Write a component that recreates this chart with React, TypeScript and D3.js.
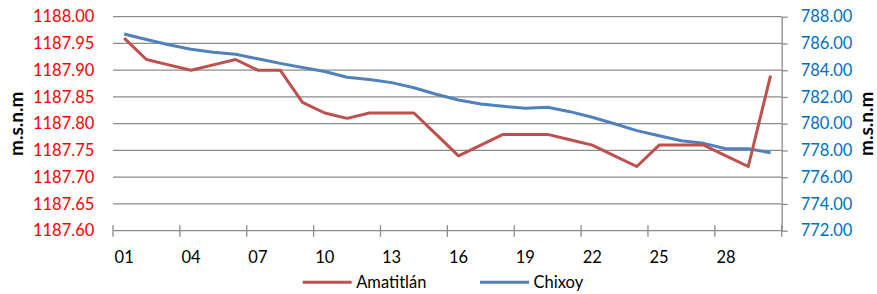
import { useEffect, useRef } from 'react';
import * as d3 from 'd3';

// daily levels, one month
const days = ['01', '02', '03', '04', '05', '06', '07', '08', '09', '10', '11', '12', '13', '14', '15',
  '16', '17', '18', '19', '20', '21', '22', '23', '24', '25', '26', '27', '28', '29', '30'];
const dayLabels = ['01', '04', '07', '10', '13', '16', '19', '22', '25', '28'];

const amatitlan = [1187.96, 1187.92, 1187.91, 1187.90, 1187.91, 1187.92, 1187.90, 1187.90, 1187.84, 1187.82,
  1187.81, 1187.82, 1187.82, 1187.82, 1187.78, 1187.74, 1187.76, 1187.78, 1187.78, 1187.78,
  1187.77, 1187.76, 1187.74, 1187.72, 1187.76, 1187.76, 1187.76, 1187.74, 1187.72, 1187.89];
const chixoy = [786.71, 786.3, 785.9, 785.56, 785.35, 785.19, 784.85, 784.51, 784.2, 783.9,
  783.47, 783.3, 783.07, 782.69, 782.2, 781.77, 781.47, 781.3, 781.15, 781.23,
  780.9, 780.48, 780.0, 779.48, 779.1, 778.73, 778.53, 778.13, 778.13, 777.83];

const leftTicks = [1187.60, 1187.65, 1187.70, 1187.75, 1187.80, 1187.85, 1187.90, 1187.95, 1188.00];
const rightTicks = [772, 774, 776, 778, 780, 782, 784, 786, 788];
const seriesNames = ['Amatitlán', 'Chixoy'];

const font = 'Lato, "Open Sans", sans-serif';

const App = () => {
  const ref = useRef<SVGSVGElement>(null);
  useEffect(() => {
    const svg = d3.select(ref.current);
    svg.selectAll('*').remove();

    const left = 113;
    const right = 781.7;
    const top = 16.7;
    const bottom = 230.7;
    const grid = '#8c8c8c';

    const x = d3.scaleBand().domain(days).range([left, right]);
    const cx = (d: string) => (x(d) as number) + x.bandwidth() / 2;
    const yL = d3.scaleLinear().domain([1187.6, 1188.0]).range([bottom, top]);
    const yR = d3.scaleLinear().domain([772, 788]).range([bottom, top]);

    // gridlines
    svg.append('g').selectAll('line').data(leftTicks.slice(1)).enter().append('line')
      .attr('x1', left).attr('x2', right)
      .attr('y1', d => yL(d)).attr('y2', d => yL(d))
      .attr('stroke', grid).attr('stroke-width', 1.3);

    // left axis labels
    const gl = svg.append('g').attr('transform', 'translate(' + left + ',0)')
      .call(d3.axisLeft(yL).tickValues(leftTicks).tickSize(0).tickPadding(18.7).tickFormat(d3.format('.2f')));
    gl.select('.domain').remove();
    gl.selectAll('text').attr('fill', '#ff0000').style('font-family', font).style('font-size', '16.5px');

    // right axis
    const gr = svg.append('g').attr('transform', 'translate(' + right + ',0)')
      .call(d3.axisRight(yR).tickValues(rightTicks).tickSize(6).tickSizeOuter(0).tickPadding(13).tickFormat(d3.format('.2f')));
    gr.select('.domain').attr('stroke', grid).attr('stroke-width', 1.3);
    gr.selectAll('line').attr('stroke', grid).attr('stroke-width', 1.3);
    gr.selectAll('text').attr('fill', '#0070c0').style('font-family', font).style('font-size', '16.5px');

    // x axis: line, cross ticks at band edges every 3 days, labels at band centres
    svg.append('line').attr('x1', left).attr('x2', right).attr('y1', bottom).attr('y2', bottom)
      .attr('stroke', grid).attr('stroke-width', 1.3);
    const edges = dayLabels.map(d => x(d) as number).concat([right]);
    svg.append('g').selectAll('line').data(edges).enter().append('line')
      .attr('x1', d => d).attr('x2', d => d).attr('y1', bottom - 5.5).attr('y2', bottom + 6)
      .attr('stroke', grid).attr('stroke-width', 1.3);
    svg.append('g').selectAll('text').data(dayLabels).enter().append('text')
      .attr('x', d => cx(d)).attr('y', 262.5).attr('text-anchor', 'middle')
      .style('font-family', font).style('font-size', '16.5px').attr('fill', '#000')
      .text(d => d);

    // series
    const lineL = d3.line<number>().x((_, i) => cx(days[i])).y(d => yL(d));
    const lineR = d3.line<number>().x((_, i) => cx(days[i])).y(d => yR(d));
    svg.append('path').attr('d', lineR(chixoy)).attr('fill', 'none')
      .attr('stroke', '#4f81bd').attr('stroke-width', 3).attr('stroke-linejoin', 'round');
    svg.append('path').attr('d', lineL(amatitlan)).attr('fill', 'none')
      .attr('stroke', '#c0504d').attr('stroke-width', 3).attr('stroke-linejoin', 'round');

    // axis titles
    svg.append('text').attr('transform', 'translate(22.5,123.7) rotate(-90)')
      .attr('text-anchor', 'middle').style('font-family', font).style('font-size', '19px')
      .style('font-weight', 'bold').text('m.s.n.m');
    svg.append('text').attr('transform', 'translate(872.5,123.7) rotate(-90)')
      .attr('text-anchor', 'middle').style('font-family', font).style('font-size', '19px')
      .style('font-weight', 'bold').text('m.s.n.m');

    // legend
    const legendX = [302.7, 480];
    const colors = ['#c0504d', '#4f81bd'];
    const lg = svg.append('g').selectAll('g').data(seriesNames).enter().append('g')
      .attr('transform', (_, i) => 'translate(' + legendX[i] + ',282.3)');
    lg.append('line').attr('x1', 0).attr('x2', 49).attr('y1', 0).attr('y2', 0)
      .attr('stroke', (_, i) => colors[i]).attr('stroke-width', 3);
    lg.append('text').attr('x', 53.5).attr('y', 6).style('font-family', font).style('font-size', '16.5px')
      .attr('fill', '#000').text(d => d);
  }, []);

  return (
    <svg ref={ref} width={877} height={294}
      style={{ position: 'absolute', left: 0, top: 0, background: '#fff' }} />
  );
};

export default App;
